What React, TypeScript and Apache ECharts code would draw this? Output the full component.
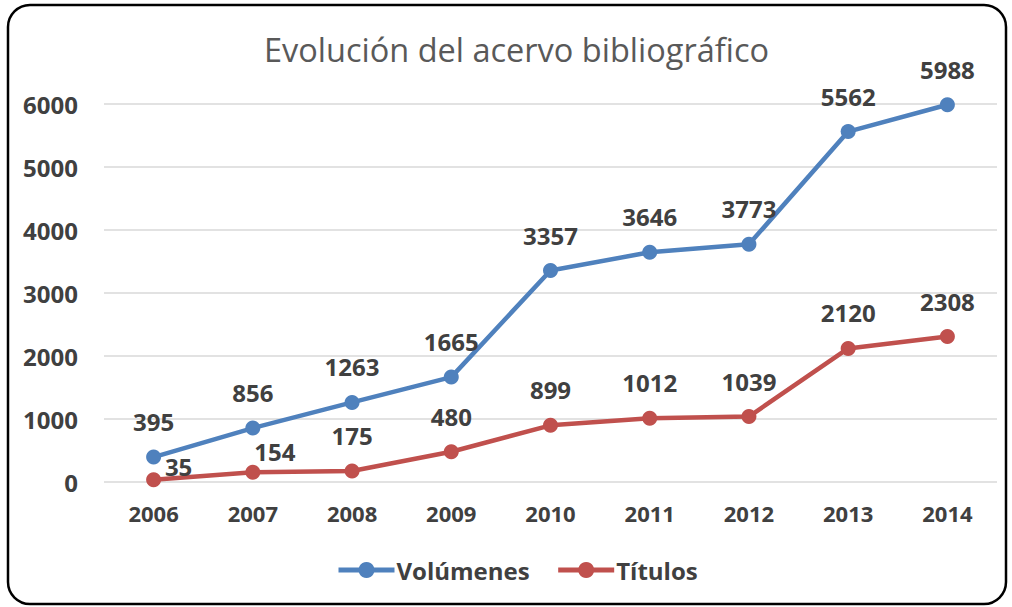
import React, { useEffect, useRef } from "react";
import * as echarts from "echarts";

const years = ["2006", "2007", "2008", "2009", "2010", "2011", "2012", "2013", "2014"];
const volumenes = [395, 856, 1263, 1665, 3357, 3646, 3773, 5562, 5988];
const titulos = [35, 154, 175, 480, 899, 1012, 1039, 2120, 2308];
const titleText = "Evolución del acervo bibliográfico";
const seriesNames = ["Volúmenes", "Títulos"];

const FONT = "'Open Sans', 'Liberation Sans', sans-serif";
const TXT = "#404040";

export default function App() {
  const ref = useRef<HTMLDivElement>(null);
  useEffect(() => {
    if (!ref.current) return;
    const chart = echarts.init(ref.current, null, { renderer: "svg" });
    const labelBase = {
      show: true,
      position: "top",
      distance: 16,
      fontFamily: FONT,
      fontWeight: "bold",
      fontSize: 24,
      color: TXT,
    };
    const titData = titulos.map((v, i) => {
      if (i === 0) return { value: v, label: { offset: [25, 22] } };
      if (i === 1) return { value: v, label: { offset: [22, 15] } };
      return v;
    });
    chart.setOption({
      animation: false,
      backgroundColor: "#ffffff",
      textStyle: { fontFamily: FONT },
      title: {
        text: titleText,
        left: 259,
        top: 28,
        textStyle: { fontFamily: FONT, fontWeight: "normal", fontSize: 32.5, color: "#595959" },
      },
      graphic: [
        {
          type: "rect",
          shape: { x: 8, y: 5, width: 998, height: 599, r: 22 },
          style: { fill: "none", stroke: "#000", lineWidth: 2.5 },
          z: 100,
        },
      ],
      legend: {
        bottom: 20,
        left: 331,
        itemWidth: 56,
        itemHeight: 20,
        itemGap: 26,
        lineStyle: { width: 5 },
        textStyle: { fontFamily: FONT, fontWeight: "bold", fontSize: 24, color: TXT, padding: [0, 0, 0, -3] },
        data: seriesNames,
      },
      grid: { left: 104, right: 15, top: 104, bottom: 125 },
      xAxis: {
        type: "category",
        data: years,
        boundaryGap: true,
        axisLine: { show: false },
        axisTick: { show: false },
        axisLabel: { margin: 20, fontFamily: FONT, fontWeight: "bold", fontSize: 22, color: TXT },
      },
      yAxis: {
        type: "value",
        min: 0,
        max: 6000,
        interval: 1000,
        axisLine: { show: false },
        axisTick: { show: false },
        splitLine: { lineStyle: { color: "#D9D9D9", width: 1.5 } },
        axisLabel: {
          margin: 26,
          fontFamily: FONT,
          fontWeight: "bold",
          fontSize: 24,
          color: TXT,
          formatter: (v: number) => String(v),
        },
      },
      series: [
        {
          name: seriesNames[0],
          type: "line",
          data: volumenes,
          symbol: "circle",
          symbolSize: 15,
          lineStyle: { width: 4.5, color: "#4F81BD" },
          itemStyle: { color: "#4F81BD" },
          label: labelBase,
        },
        {
          name: seriesNames[1],
          type: "line",
          data: titData,
          symbol: "circle",
          symbolSize: 15,
          lineStyle: { width: 4.5, color: "#C0504D" },
          itemStyle: { color: "#C0504D" },
          label: labelBase,
        },
      ],
    });
    return () => chart.dispose();
  }, []);
  return (
    <div
      ref={ref}
      style={{ position: "fixed", left: 0, top: 0, width: 1012, height: 607 }}
    />
  );
}
